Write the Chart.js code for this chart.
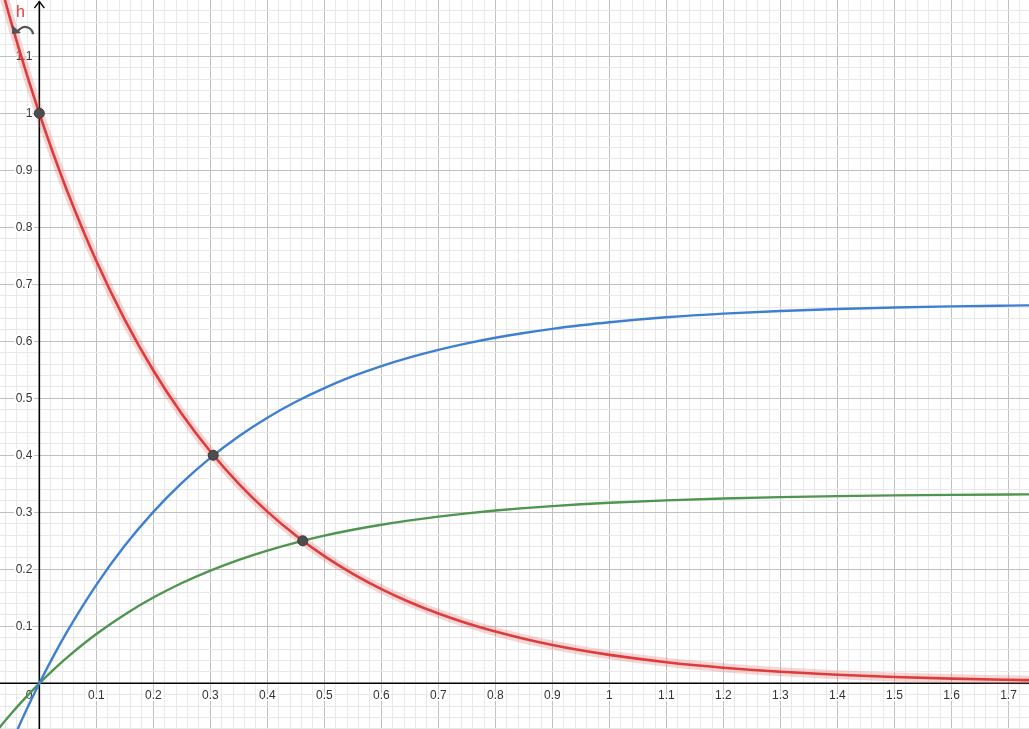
<!DOCTYPE html>
<html>
<head>
<meta charset="utf-8">
<script src="https://cdn.jsdelivr.net/npm/chart.js@4/dist/chart.umd.min.js"></script>
<style>
html,body{margin:0;padding:0;background:#fff;overflow:hidden;}
#wrap{width:1029px;height:729px;}
</style>
</head>
<body>
<div id="wrap"><canvas id="c" width="1029" height="729"></canvas></div>
<script>
// sample positions along x
const xValues = [-0.07, -0.05, -0.025, 0, 0.025, 0.05, 0.1, 0.15, 0.2, 0.25, 0.3, 0.35, 0.4, 0.45, 0.5, 0.55, 0.6, 0.65, 0.7, 0.75, 0.8, 0.85, 0.9, 0.95, 1.0, 1.1, 1.2, 1.3, 1.4, 1.5, 1.6, 1.7, 1.74];
// red curve h
const hValues = [1.2337, 1.1618, 1.0779, 1, 0.9277, 0.8607, 0.7408, 0.6376, 0.5488, 0.4724, 0.4066, 0.3499, 0.3012, 0.2592, 0.2231, 0.1920, 0.1653, 0.1423, 0.1225, 0.1054, 0.0907, 0.0781, 0.0672, 0.0578, 0.0498, 0.0369, 0.0273, 0.0202, 0.0150, 0.0111, 0.0082, 0.0061, 0.0054];
// blue curve
const blueValues = [-0.1558, -0.1079, -0.0519, 0, 0.0482, 0.0929, 0.1728, 0.2416, 0.3008, 0.3517, 0.3956, 0.4334, 0.4659, 0.4939, 0.5179, 0.5387, 0.5565, 0.5718, 0.5850, 0.5964, 0.6062, 0.6146, 0.6219, 0.6281, 0.6335, 0.6421, 0.6485, 0.6532, 0.6567, 0.6593, 0.6612, 0.6626, 0.6631];
// green curve
const greenValues = [-0.0779, -0.0539, -0.0260, 0, 0.0241, 0.0464, 0.0864, 0.1208, 0.1504, 0.1759, 0.1978, 0.2167, 0.2329, 0.2469, 0.2590, 0.2693, 0.2782, 0.2859, 0.2925, 0.2982, 0.3031, 0.3073, 0.3109, 0.3141, 0.3167, 0.3210, 0.3242, 0.3266, 0.3283, 0.3296, 0.3306, 0.3313, 0.3315];
// marked points
const pointX = [0, 0.305, 0.462];
const pointY = [1, 0.4, 0.25];
// axis tick labels
const xTickLabels = ['0.1','0.2','0.3','0.4','0.5','0.6','0.7','0.8','0.9','1','1.1','1.2','1.3','1.4','1.5','1.6','1.7'];
const yTickLabels = ['0.1','0.2','0.3','0.4','0.5','0.6','0.7','0.8','0.9','1','1.1'];
const originLabel = '0';
const curveLabel = 'h';

const toXY = (ys) => xValues.map((x, i) => ({x: x, y: ys[i]}));

const gridColor = (ctx) => {
  const v = ctx.tick ? ctx.tick.value : 0;
  const k = Math.round(v / 0.02);
  if (k === 0) return 'rgba(0,0,0,0)';
  return (k % 5 === 0) ? '#c0c0c0' : '#e8e8e8';
};

const axesPlugin = {
  id: 'axesPlugin',
  beforeDatasetsDraw(chart) {
    const {ctx, chartArea: a, scales: {x, y}} = chart;
    const x0 = x.getPixelForValue(0), y0 = y.getPixelForValue(0);
    ctx.save();
    ctx.strokeStyle = '#000';
    ctx.lineWidth = 1.6;
    ctx.beginPath();
    ctx.moveTo(a.left, y0); ctx.lineTo(a.right, y0);
    ctx.moveTo(x0, a.bottom); ctx.lineTo(x0, a.top + 1);
    ctx.stroke();
    // arrow at top of y axis
    ctx.lineWidth = 1.3;
    ctx.beginPath();
    ctx.moveTo(x0 - 5, a.top + 8); ctx.lineTo(x0, a.top + 1.5); ctx.lineTo(x0 + 5, a.top + 8);
    ctx.stroke();
    // tick labels
    ctx.font = '12px "Liberation Sans", Arial, sans-serif';
    ctx.fillStyle = '#333';
    ctx.strokeStyle = '#fff';
    ctx.lineWidth = 4;
    ctx.lineJoin = 'round';
    ctx.textAlign = 'center';
    ctx.textBaseline = 'middle';
    xTickLabels.forEach(t => {
      const px = x.getPixelForValue(parseFloat(t));
      ctx.strokeText(t, px, y0 + 12);
      ctx.fillText(t, px, y0 + 12);
    });
    ctx.textAlign = 'right';
    yTickLabels.forEach(t => {
      const py = y.getPixelForValue(parseFloat(t));
      ctx.strokeText(t, x0 - 7, py);
      ctx.fillText(t, x0 - 7, py);
    });
    ctx.strokeText(originLabel, x0 - 7, y0 + 12);
    ctx.fillText(originLabel, x0 - 7, y0 + 12);
    ctx.restore();
  },
  afterDatasetsDraw(chart) {
    const {ctx} = chart;
    ctx.save();
    ctx.font = '16px "Liberation Sans", Arial, sans-serif';
    ctx.fillStyle = '#dd3c3c';
    ctx.textAlign = 'left';
    ctx.textBaseline = 'alphabetic';
    ctx.fillText(curveLabel, 16, 17);
    // undo-like icon
    ctx.strokeStyle = '#555';
    ctx.fillStyle = '#555';
    ctx.lineWidth = 2.2;
    ctx.beginPath();
    ctx.arc(25, 35, 8, Math.PI * 1.12, Math.PI * 1.97);
    ctx.stroke();
    ctx.beginPath();
    ctx.moveTo(12, 25); ctx.lineTo(12, 34); ctx.lineTo(21, 33);
    ctx.closePath();
    ctx.fill();
    ctx.restore();
  }
};

new Chart(document.getElementById('c'), {
  type: 'line',
  data: {
    datasets: [
      {label: 'points', data: pointX.map((x, i) => ({x: x, y: pointY[i]})), showLine: false,
       pointRadius: 5, pointBackgroundColor: '#4d4d4d', pointBorderColor: '#3a3a3a', pointBorderWidth: 1, order: 0},
      {label: 'h', data: toXY(hValues), borderColor: '#dc3c3c', borderWidth: 2.6, pointRadius: 0,
       cubicInterpolationMode: 'monotone', order: 1},
      {label: 'h halo', data: toXY(hValues), borderColor: 'rgba(230,90,90,0.25)', borderWidth: 9, pointRadius: 0,
       cubicInterpolationMode: 'monotone', order: 2},
      {label: 'blue', data: toXY(blueValues), borderColor: '#3f7fd2', borderWidth: 2.4, pointRadius: 0,
       cubicInterpolationMode: 'monotone', order: 3},
      {label: 'green', data: toXY(greenValues), borderColor: '#4f944f', borderWidth: 2.4, pointRadius: 0,
       cubicInterpolationMode: 'monotone', order: 4}
    ]
  },
  options: {
    responsive: false,
    animation: false,
    events: [],
    layout: {padding: 0, autoPadding: false},
    plugins: {legend: {display: false}, tooltip: {enabled: false}},
    scales: {
      x: {type: 'linear', min: -0.069, max: 1.736,
          ticks: {display: false, stepSize: 0.02, includeBounds: false},
          grid: {drawTicks: false, color: gridColor, lineWidth: 1},
          border: {display: false}},
      y: {type: 'linear', min: -0.0802, max: 1.1988,
          ticks: {display: false, stepSize: 0.02, includeBounds: false},
          grid: {drawTicks: false, color: gridColor, lineWidth: 1},
          border: {display: false}}
    }
  },
  plugins: [axesPlugin]
});
</script>
</body>
</html>
